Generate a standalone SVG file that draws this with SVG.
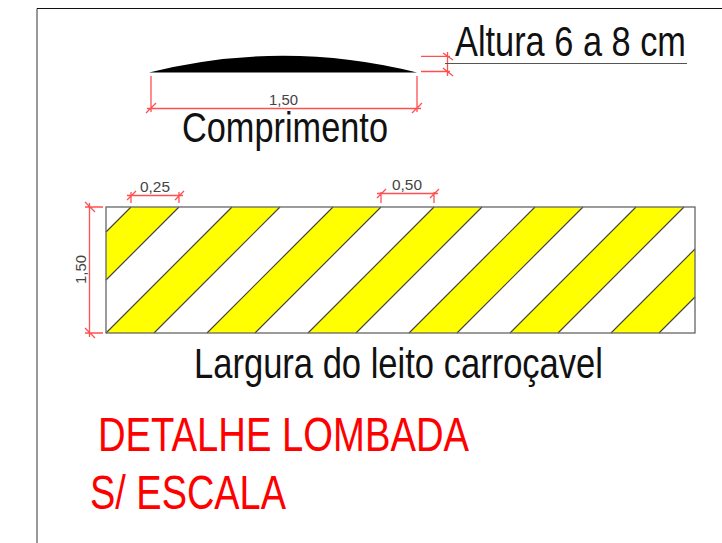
<svg xmlns="http://www.w3.org/2000/svg" width="722" height="543" viewBox="0 0 722 543">
<style>
text{font-family:"Liberation Sans",Arial,sans-serif}
.big{fill:#111;font-size:43px}
.red{fill:#ff0000;font-size:48px}
.dim{fill:#444;font-size:15.5px}
.d{stroke:#ff5050;stroke-width:1.3;fill:none}
.s{fill:#ffff00;stroke:none}
.e{stroke:#444;stroke-width:1.2;fill:none}
</style>
<rect width="722" height="543" fill="#fff"/>
<g id="frame"><path d="M37 543V8.500" stroke="#999" stroke-width="2" fill="none"/><path d="M37 8.500H722" stroke="#111" stroke-width="1.200" fill="none"/></g>
<g id="profile"><path d="M149 72.500Q283 39 417 72.500Z" fill="#000"/></g>
<g id="strip">
<path class="s" d="M131 207H179L106 280V232ZM232 207H280L154 333H106ZM333 207H381L255 333H207ZM434 207H482L356 333H308ZM535 207H583L457 333H409ZM636 207H684L558 333H510ZM695 249V297L659 333H611Z"/>
<path class="e" d="M131 207L106 232M179 207L106 280M232 207L106 333M280 207L154 333M333 207L207 333M381 207L255 333M434 207L308 333M482 207L356 333M535 207L409 333M583 207L457 333M636 207L510 333M684 207L558 333M695 249L611 333M695 297L659 333"/>
<rect x="106" y="207" width="589" height="126" fill="none" stroke="#666" stroke-width="1.300"/>
</g>
<g id="connectors">
<path class="d" d="M151 76V112M417 76V112M147 108.500H421M146 113L156 103M412 113L422 103"/>
<path class="d" d="M421 56.300H450M421 71.500H450M447.500 52V76M443 53L453 60M443 68L453 76"/>
<path class="d" d="M131 192V203M179 192V203M127 195.500H183M127 200L136 191M175 200L184 191"/>
<path class="d" d="M381 192V203M434 192V203M377 193.500H438M377 198L386 189M430 198L439 189"/>
<path class="d" d="M85 207H103M85 333H103M89.500 203V337M85 202L95 212M85 328L95 338"/>
</g>
<g id="labels">
<text class="big" transform="translate(455 56) scale(.799 1)">Altura 6 a 8 cm</text>
<path d="M445 63.500H687" stroke="#555" stroke-width="1" fill="none"/>
<text class="big" x="182" y="142" textLength="206" lengthAdjust="spacingAndGlyphs">Comprimento</text>
<text class="big" x="194" y="378" textLength="409" lengthAdjust="spacingAndGlyphs">Largura do leito carroçavel</text>
<text class="red" x="98" y="451" textLength="371" lengthAdjust="spacingAndGlyphs">DETALHE LOMBADA</text>
<text class="red" x="90" y="509" textLength="196" lengthAdjust="spacingAndGlyphs">S/ ESCALA</text>
<text class="dim" x="269" y="105" textLength="29" lengthAdjust="spacingAndGlyphs">1,50</text>
<text class="dim" x="140" y="192" textLength="30" lengthAdjust="spacingAndGlyphs">0,25</text>
<text class="dim" x="392" y="190" textLength="30" lengthAdjust="spacingAndGlyphs">0,50</text>
<text class="dim" transform="translate(86 284) rotate(-90)" textLength="29" lengthAdjust="spacingAndGlyphs">1,50</text>
</g>
</svg>
